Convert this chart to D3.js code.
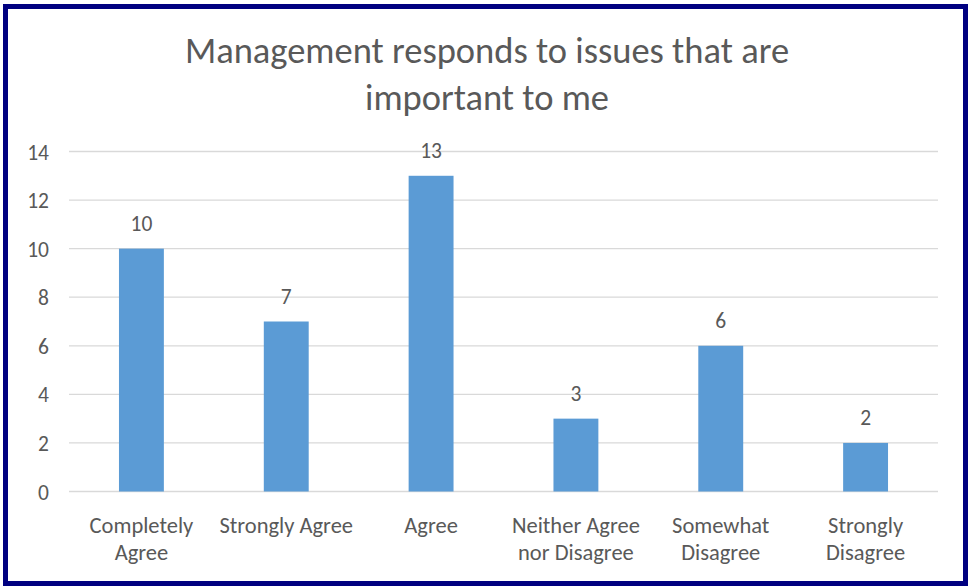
<!DOCTYPE html>
<html><head><meta charset="utf-8">
<script src="https://cdn.jsdelivr.net/npm/d3@7"></script>
<style>
html,body{margin:0;padding:0;background:#fff;}
text{font-family:Calibri,Carlito,Lato,"Open Sans",sans-serif;fill:#595959;}
</style></head>
<body>
<svg id="c" width="969" height="586"></svg>
<script>
const categories = [["Completely","Agree"],["Strongly Agree"],["Agree"],["Neither Agree","nor Disagree"],["Somewhat","Disagree"],["Strongly","Disagree"]];
const values = [10, 7, 13, 3, 6, 2];
const yTicks = [0, 2, 4, 6, 8, 10, 12, 14];
const titleLines = ["Management responds to issues that are", "important to me"];

const svg = d3.select("#c");
svg.append("rect").attr("x",0).attr("y",0).attr("width",969).attr("height",586).attr("fill","#fff");
svg.append("rect").attr("x",5.5).attr("y",6.5).attr("width",960).attr("height",577)
  .attr("fill","#fff").attr("stroke","#000080").attr("stroke-width",5);

const x = d3.scaleBand().domain(d3.range(categories.length)).range([69, 938]).paddingInner(0.69).paddingOuter(0.345);
const y = d3.scaleLinear().domain([0, 14]).range([491.5, 151.5]);

const g = svg.append("g");
g.selectAll("line.grid").data(yTicks).enter().append("line")
  .attr("x1",69).attr("x2",938).attr("y1",d=>y(d)).attr("y2",d=>y(d))
  .attr("stroke","#D9D9D9").attr("stroke-width",1.3);

g.selectAll("text.yt").data(yTicks).enter().append("text")
  .attr("x",49).attr("y",d=>y(d)+8).attr("text-anchor","end")
  .attr("font-size",21.5).text(d=>d);

g.selectAll("rect.bar").data(values).enter().append("rect")
  .attr("x",(d,i)=>x(i)).attr("width",x.bandwidth())
  .attr("y",d=>y(d)).attr("height",d=>y(0)-y(d)).attr("fill","#5B9BD5");

g.selectAll("text.val").data(values).enter().append("text")
  .attr("x",(d,i)=>x(i)+x.bandwidth()/2).attr("y",d=>y(d)-18)
  .attr("text-anchor","middle").attr("font-size",21.5).text(d=>d);

categories.forEach((lines,i)=>{
  const t = g.append("text").attr("x",x(i)+x.bandwidth()/2).attr("y",533)
    .attr("text-anchor","middle").attr("font-size",22.5);
  lines.forEach((l,j)=>t.append("tspan").attr("x",x(i)+x.bandwidth()/2).attr("dy",j?27:0).text(l));
});

titleLines.forEach((l,j)=>{
  svg.append("text").attr("x",487).attr("y",63+j*47).attr("text-anchor","middle")
    .attr("font-size",36.5).text(l);
});
</script>
</body></html>
